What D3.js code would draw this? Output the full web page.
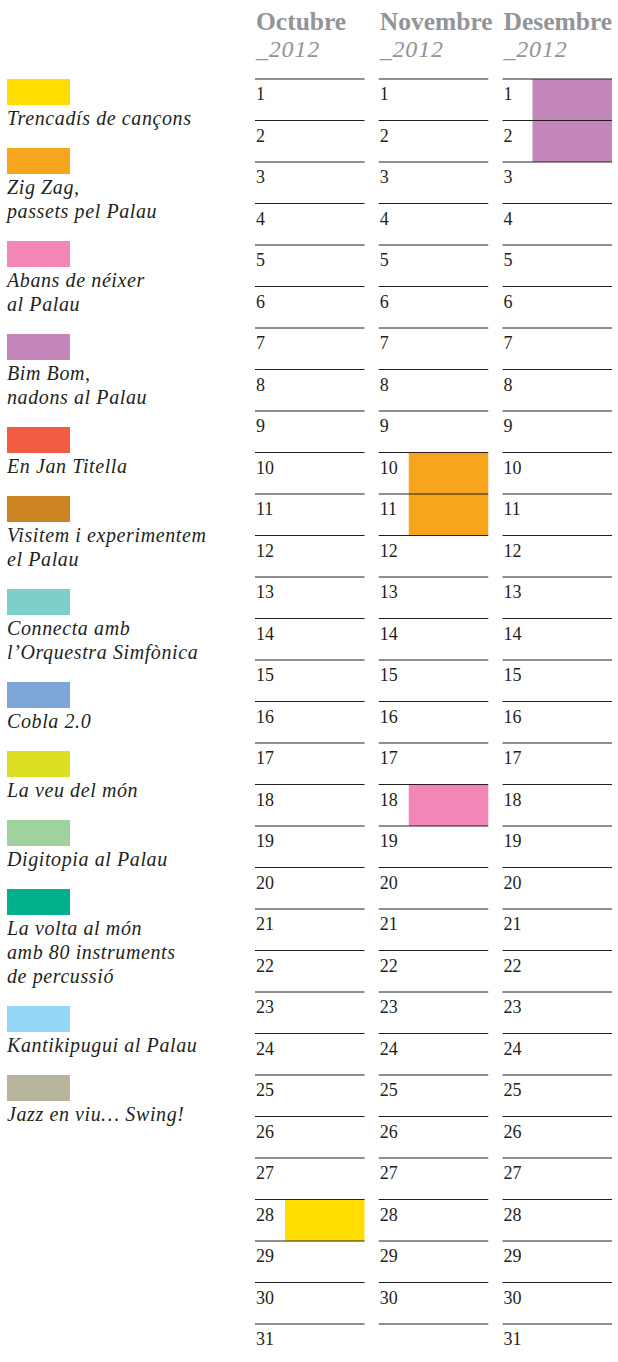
<!DOCTYPE html>
<html>
<head>
<meta charset="utf-8">
<script src="https://cdn.jsdelivr.net/npm/d3@7"></script>
<style>
  html, body { margin: 0; padding: 0; background: #fff; }
  svg { display: block; }
</style>
</head>
<body>
<div class="calendar-container"></div>
<script>
const months = ['Octubre', 'Novembre', 'Desembre'];
const monthYears = ['_2012', '_2012', '_2012'];
const daysInMonth = [31, 30, 31];
const dayRows = d3.range(1, 32);

const programmes = [
  ['Trencadís de cançons'],
  ['Zig Zag,', 'passets pel Palau'],
  ['Abans de néixer', 'al Palau'],
  ['Bim Bom,', 'nadons al Palau'],
  ['En Jan Titella'],
  ['Visitem i experimentem', 'el Palau'],
  ['Connecta amb', 'l’Orquestra Simfònica'],
  ['Cobla 2.0'],
  ['La veu del món'],
  ['Digitopia al Palau'],
  ['La volta al món', 'amb 80 instruments', 'de percussió'],
  ['Kantikipugui al Palau'],
  ['Jazz en viu… Swing!'],
];
const programmeColors = [
  '#ffdd00', '#f8a51e', '#f287b7', '#c386ba', '#f15d42', '#cc8322', '#7dcfcc',
  '#7ea6d8', '#dce021', '#9fd29c', '#00b08d', '#93d7f6', '#b8b59c',
];

// one entry per programmed day
const eventMonths = ['Octubre', 'Novembre', 'Novembre', 'Novembre', 'Desembre', 'Desembre'];
const eventDays = [28, 10, 11, 18, 1, 2];
const eventProgrammes = [0, 1, 1, 2, 3, 3];

const createCalendar = () => {
  const width = 618;
  const height = 1362;
  const ink = '#231f20';
  const grey = '#929497';
  const serif = '"Liberation Serif", "Times New Roman", serif';

  const svg = d3.select('.calendar-container')
    .append('svg')
    .attr('width', width)
    .attr('height', height)
    .style('background-color', 'white');

  /* scales */

  const x = d3.scaleBand()
    .domain(months)
    .range([255, 612])
    .paddingInner(0.115)
    .paddingOuter(0);

  const rowHeight = 41.5;
  const y = d3.scaleBand()
    .domain(dayRows)
    .range([79, 79 + rowHeight * dayRows.length])
    .padding(0);

  const barOffset = 30;

  /* month headers */

  const header = svg.selectAll('.month-header')
    .data(months)
    .enter().append('g')
    .attr('class', 'month-header')
    .attr('transform', d => `translate(${x(d) + 1},0)`);

  header.append('text')
    .attr('y', 30)
    .style('font-family', serif)
    .style('font-weight', 'bold')
    .style('font-size', '25.5px')
    .style('fill', grey)
    .text(d => d);

  header.append('text')
    .attr('y', 57)
    .style('font-family', serif)
    .style('font-style', 'italic')
    .style('font-size', '24px')
    .style('letter-spacing', '0.8px')
    .style('fill', grey)
    .text((d, i) => monthYears[i]);

  /* programmed days */

  svg.selectAll('.event')
    .data(eventDays)
    .enter().append('rect')
    .attr('class', 'event')
    .attr('x', (d, i) => x(eventMonths[i]) + barOffset)
    .attr('y', d => y(d))
    .attr('width', x.bandwidth() - barOffset)
    .attr('height', y.bandwidth())
    .style('fill', (d, i) => programmeColors[eventProgrammes[i]]);

  /* day rows */

  const cells = svg.selectAll('.month-col')
    .data(months)
    .enter().append('g')
    .attr('class', 'month-col')
    .attr('transform', d => `translate(${x(d)},0)`);

  cells.selectAll('line')
    .data(dayRows)
    .enter().append('line')
    .attr('x1', 0)
    .attr('x2', x.bandwidth())
    .attr('y1', d => y(d))
    .attr('y2', d => y(d))
    .style('stroke', ink)
    .style('stroke-width', 1);

  cells.selectAll('text')
    .data((m, i) => dayRows.filter(d => d <= daysInMonth[i]))
    .enter().append('text')
    .attr('x', 1)
    .attr('y', d => y(d) + 21)
    .style('font-family', serif)
    .style('font-size', '18px')
    .style('fill', ink)
    .text(d => d);

  /* legend */

  const legendTops = [];
  programmes.reduce((top, lines) => {
    legendTops.push(top);
    return top + 45 + 24 * lines.length;
  }, 79);

  const legend = svg.selectAll('.legend-item')
    .data(programmes)
    .enter().append('g')
    .attr('class', 'legend-item')
    .attr('transform', (d, i) => `translate(7,${legendTops[i]})`);

  legend.append('rect')
    .attr('width', 63)
    .attr('height', 26)
    .style('fill', (d, i) => programmeColors[i]);

  legend.append('text')
    .style('font-family', serif)
    .style('font-style', 'italic')
    .style('font-size', '20px')
    .style('letter-spacing', '0.6px')
    .style('fill', ink)
    .selectAll('tspan')
    .data(d => d)
    .enter().append('tspan')
    .attr('x', 0)
    .attr('y', (d, i) => 46 + 24 * i)
    .text(d => d);
};

createCalendar();
</script>
</body>
</html>
